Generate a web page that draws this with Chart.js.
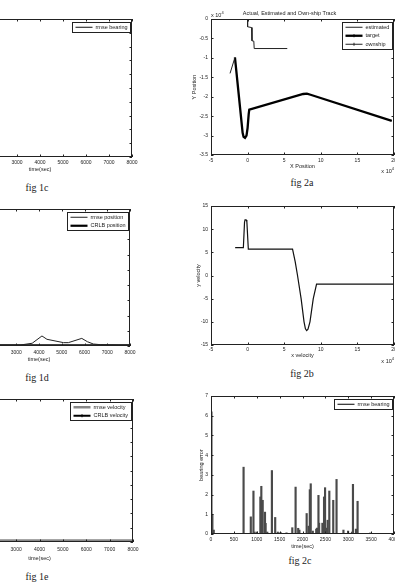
<!DOCTYPE html>
<html>
<head>
<meta charset="utf-8">
<script src="https://cdn.jsdelivr.net/npm/chart.js@4.4.1/dist/chart.umd.min.js"></script>
<style>
  html, body { margin: 0; padding: 0; background: #fff; }
  body { width: 395px; height: 585px; overflow: hidden; position: relative; font-family: "Liberation Sans", Arial, sans-serif; }
  canvas { position: absolute; }
  .cap { position: absolute; font-family: "Liberation Serif", "Times New Roman", serif; font-size: 10px; color: #222; transform: translate(-50%, -50%); white-space: nowrap; }
  .mult { position: absolute; font-size: 5.5px; color: #222; white-space: nowrap; line-height: 1; }
  .mult sup { font-size: 4px; vertical-align: 3px; }
</style>
</head>
<body>
<canvas id="fig1c"></canvas>
<canvas id="fig1d"></canvas>
<canvas id="fig1e"></canvas>
<canvas id="fig2a"></canvas>
<canvas id="fig2b"></canvas>
<canvas id="fig2c"></canvas>

<div class="cap" style="left:37px;top:187px">fig 1c</div>
<div class="cap" style="left:37px;top:377px">fig 1d</div>
<div class="cap" style="left:37px;top:576px">fig 1e</div>
<div class="cap" style="left:302px;top:182px">fig 2a</div>
<div class="cap" style="left:302px;top:373px">fig 2b</div>
<div class="cap" style="left:300px;top:560px">fig 2c</div>

<div class="mult" style="left:211px;top:11px">x 10<sup>4</sup></div>
<div class="mult" style="right:1px;top:167px">x 10<sup>4</sup></div>
<div class="mult" style="right:1px;top:357px">x 10<sup>4</sup></div>

<script>
// fig 1c - rmse bearing against time
const bearingTime = [0, 8000];
const bearingRmse = [0.02, 0.02];

// fig 1d - rmse / CRLB position against time
const posTime = [0, 1000, 2000, 3000, 3200, 3700, 4130, 4350, 5080, 5290, 5880, 6130, 6390, 6690, 7500, 8000];
const posRmse = [0.1, 0.07, 0.06, 0.06, 0.07, 0.18, 0.66, 0.44, 0.22, 0.22, 0.5, 0.28, 0.13, 0.09, 0.06, 0.06];
const crlbPosTime = [0, 8000];
const crlbPos = [0.04, 0.04];

// fig 1e - rmse / CRLB velocity against time
const velTime = [0, 8000];
const velRmse = [0.1, 0.1];
const crlbVel = [0.06, 0.06];

// fig 2a - tracks (x 10^4)
const estX = [-2.4, -1.73];
const estY = [-1.4, -0.99];
const targetX = [-1.73, -0.68, -0.55, -0.35, -0.15, 0.0, 0.15, 0.23, 7.6, 8.1, 8.6, 19.7];
const targetY = [-0.99, -2.93, -3.03, -3.06, -3.0, -2.8, -2.45, -2.33, -1.93, -1.92, -1.95, -2.62];
const ownX = [0, 0, 0.55, 0.6, 0.85, 0.9, 5.42];
const ownY = [0, -0.2, -0.22, -0.56, -0.57, -0.76, -0.76];

// fig 2b - x velocity vs y velocity
const velXs = [-1.7, -0.58, -0.42, -0.35, -0.2, -0.1, 0.1, 6.14, 6.5, 6.82, 7.31, 7.71, 7.9, 8.07, 8.25, 8.52, 8.97, 9.42, 19.9];
const velYs = [6.0, 6.0, 11.5, 12.0, 12.0, 11.6, 5.68, 5.68, 3.0, 0, -5, -10, -11.5, -11.9, -11.6, -10, -5, -1.87, -1.87];

// fig 2c - bearing error spikes
const spikeTime = [10, 30, 60, 712, 870, 928, 950, 1000, 1079, 1100, 1130, 1180, 1194, 1230, 1331, 1403, 1460, 1520, 1650,
  1777, 1849, 1906, 1932, 2091, 2134, 2160, 2180, 2225, 2300, 2320, 2349, 2363, 2435, 2471, 2493, 2529, 2550, 2586,
  2672, 2744, 2895, 2996, 3082, 3103, 3168, 3204, 3477];
const spikeErr = [6.2, 1.0, 0.2, 3.39, 0.87, 2.18, 0.1, 0.1, 1.88, 2.42, 1.71, 1.11, 0.54, 0.1, 3.22, 0.84, 0.1, 0.08, 0.06,
  0.32, 2.38, 0.29, 0.2, 1.04, 0.4, 2.25, 2.55, 0.15, 0.25, 0.3, 1.96, 0.55, 0.55, 1.88, 2.35, 0.3, 0.7, 2.18,
  1.71, 2.77, 0.2, 0.15, 0.1, 2.52, 0.25, 1.66, 0.05];

Chart.defaults.font.family = '"Liberation Sans", Arial, sans-serif';
Chart.defaults.color = "#222";

const plain = (v) => String(v);

// matlab style box with inward ticks on all four sides
const boxTicks = {
    id: "boxTicks",
    afterDatasetsDraw(chart) {
        const { ctx, chartArea: a, scales } = chart;
        const t = 2.5;
        ctx.save();
        ctx.strokeStyle = "#222";
        ctx.lineWidth = 1;
        ctx.beginPath();
        scales.x.ticks.forEach((tick) => {
            const px = Math.round(scales.x.getPixelForValue(tick.value)) + 0.5;
            ctx.moveTo(px, a.bottom);
            ctx.lineTo(px, a.bottom - t);
            ctx.moveTo(px, a.top);
            ctx.lineTo(px, a.top + t);
        });
        scales.y.ticks.forEach((tick) => {
            const py = Math.round(scales.y.getPixelForValue(tick.value)) + 0.5;
            ctx.moveTo(a.left, py);
            ctx.lineTo(a.left + t, py);
            ctx.moveTo(a.right, py);
            ctx.lineTo(a.right - t, py);
        });
        ctx.stroke();
        ctx.strokeRect(Math.round(a.left) + 0.5, Math.round(a.top) + 0.5, Math.round(a.right - a.left) - 1, Math.round(a.bottom - a.top) - 1);
        ctx.restore();
    },
};

// boxed legend in the top right corner of the plot
const boxLegend = {
    id: "boxLegend",
    afterDraw(chart) {
        const { ctx, chartArea: a } = chart;
        const items = chart.data.datasets.filter((d) => d.label);
        if (!items.length) {
            return;
        }
        ctx.save();
        ctx.font = '5.5px "Liberation Sans", Arial, sans-serif';
        const tw = Math.max(...items.map((d) => ctx.measureText(d.label).width));
        const rowH = 8.5;
        const sample = 17;
        const w = Math.round(3 + sample + 3 + tw + 3);
        const h = Math.round(items.length * rowH + 1);
        const x0 = Math.round(a.right - 2 - w) + 0.5;
        const y0 = Math.round(a.top + 2.5) + 0.5;
        ctx.fillStyle = "#fff";
        ctx.fillRect(x0, y0, w, h);
        ctx.strokeStyle = "#222";
        ctx.lineWidth = 1;
        ctx.strokeRect(x0, y0, w, h);
        items.forEach((d, i) => {
            const cy = y0 + 0.5 + rowH * (i + 0.5);
            ctx.strokeStyle = d.legendColor || d.borderColor;
            ctx.lineWidth = d.legendWidth || d.borderWidth || 1;
            ctx.beginPath();
            ctx.moveTo(x0 + 3, cy);
            ctx.lineTo(x0 + 3 + sample, cy);
            ctx.stroke();
            if (d.legendMarker) {
                const mx = x0 + 3 + sample / 2;
                ctx.lineWidth = 1;
                ctx.beginPath();
                ctx.moveTo(mx, cy - 1.5);
                ctx.lineTo(mx, cy + 1.5);
                ctx.stroke();
            }
            ctx.fillStyle = "#222";
            ctx.textBaseline = "middle";
            ctx.fillText(d.label, x0 + 6 + sample, cy);
        });
        ctx.restore();
    },
};

function place(id, area, yW, xH, padTop, padRight) {
    const cv = document.getElementById(id);
    const left = area[0] - yW;
    const top = area[1] - padTop;
    const w = area[2] + padRight - left;
    const h = area[3] + xH - top;
    Object.assign(cv.style, { left: left + "px", top: top + "px", width: w + "px", height: h + "px" });
    cv.width = w;
    cv.height = h;
    return cv;
}

function xAxis(min, max, step, title, tickPad, height, titlePad) {
    return {
        type: "linear",
        min,
        max,
        offset: false,
        ticks: { stepSize: step, font: { size: 5 }, padding: tickPad, autoSkip: false, maxRotation: 0, callback: plain },
        grid: { display: false, drawTicks: false },
        border: { display: false },
        title: { display: !!title, text: title, font: { size: 5.5 }, padding: { top: 0, bottom: titlePad } },
        afterFit(s) {
            s.height = height;
        },
    };
}

function yAxis(min, max, step, title, width, tickPad, titlePad) {
    return {
        type: "linear",
        min,
        max,
        ticks: { stepSize: step, font: { size: 5 }, padding: tickPad, autoSkip: false, callback: plain },
        grid: { display: false, drawTicks: false },
        border: { display: false },
        title: { display: !!title, text: title, font: { size: 5.5 }, padding: { top: titlePad, bottom: 0 } },
        afterFit(s) {
            s.width = width;
        },
    };
}

function series(label, xs, ys, color, width, extra) {
    return Object.assign(
        {
            label,
            data: xs.map((x, i) => ({ x, y: ys[i] })),
            borderColor: color,
            backgroundColor: color,
            borderWidth: width,
            pointRadius: 0,
            tension: 0,
            fill: false,
        },
        extra || {}
    );
}

function options(layoutTop, padRight, x, y, title) {
    return {
        responsive: false,
        animation: false,
        events: [],
        layout: { padding: { top: layoutTop, right: padRight, left: 0, bottom: 0 } },
        plugins: {
            legend: { display: false },
            tooltip: { enabled: false },
            title: title || { display: false },
        },
        scales: { x, y },
    };
}

// ---- left column (cropped on the left edge) ----
new Chart(place("fig1c", [-52, 19, 132, 157], 28, 17, 6, 18), {
    type: "line",
    data: { datasets: [series("rmse bearing", bearingTime, bearingRmse, "#111", 1)] },
    options: options(6, 18, xAxis(0, 8000, 1000, "time(sec)", 2.5, 17, 1.7), yAxis(0, 10, 1, "", 28, 3, 0)),
    plugins: [boxTicks, boxLegend],
});

new Chart(place("fig1d", [-52, 209, 130, 346], 28, 18, 6, 18), {
    type: "line",
    data: {
        datasets: [
            series("rmse position", posTime, posRmse, "#222", 1),
            series("CRLB position", crlbPosTime, crlbPos, "#000", 2.2),
        ],
    },
    options: options(6, 18, xAxis(0, 8000, 1000, "time(sec)", 3.5, 18, 1.7), yAxis(0, 9, 1, "", 28, 3, 0)),
    plugins: [boxTicks, boxLegend],
});

new Chart(place("fig1e", [-54, 399, 133, 542], 28, 20, 6, 18), {
    type: "line",
    data: {
        datasets: [
            series("rmse velocity", velTime, velRmse, "#888", 2.5),
            series("CRLB velocity", velTime, crlbVel, "#000", 2, { legendMarker: true }),
        ],
    },
    options: options(6, 18, xAxis(0, 8000, 1000, "time(sec)", 4.5, 20, 0.7), yAxis(0, 10, 1, "", 28, 3, 0)),
    plugins: [boxTicks, boxLegend],
});

// ---- right column ----
new Chart(place("fig2a", [211, 19, 394, 155], 26, 16, 19, 21), {
    type: "line",
    data: {
        datasets: [
            series("estimated", estX, estY, "#222", 1),
            series("target", targetX, targetY, "#000", 2.3, { legendMarker: true }),
            series("ownship", ownX, ownY, "#222", 1, { legendMarker: true }),
        ],
    },
    options: options(
        0,
        21,
        xAxis(-5, 20, 5, "X Position", 3, 16, 1.2),
        yAxis(-3.5, 0, 0.5, "Y Position", 26, 3, 5.7),
        {
            display: true,
            text: "Actual, Estimated and Own-ship Track",
            font: { size: 5.5, weight: "normal" },
            color: "#222",
            padding: { top: 9.7, bottom: 2.7 },
        }
    ),
    plugins: [boxTicks, boxLegend],
});

new Chart(place("fig2b", [211, 206, 394, 345], 26, 15, 6, 21), {
    type: "line",
    data: { datasets: [series("", velXs, velYs, "#111", 1.2)] },
    options: options(6, 21, xAxis(-5, 20, 5, "x velocity", 2, 15, 1), yAxis(-15, 15, 5, "y velocity", 26, 3, 9.7)),
    plugins: [boxTicks],
});

new Chart(place("fig2c", [211, 396, 394, 534], 26, 16, 6, 21), {
    type: "bar",
    data: {
        datasets: [
            {
                label: "rmse bearing",
                data: spikeTime.map((t, i) => ({ x: t, y: spikeErr[i] })),
                backgroundColor: "#4a4a4a",
                borderWidth: 0,
                barThickness: 1.5,
                legendColor: "#000",
                legendWidth: 1,
            },
        ],
    },
    options: options(6, 21, xAxis(0, 4000, 500, "time(sec)", 2.5, 16, 0.7), yAxis(0, 7, 1, "bearing error", 26, 3, 12.7)),
    plugins: [boxTicks, boxLegend],
});
</script>
</body>
</html>
